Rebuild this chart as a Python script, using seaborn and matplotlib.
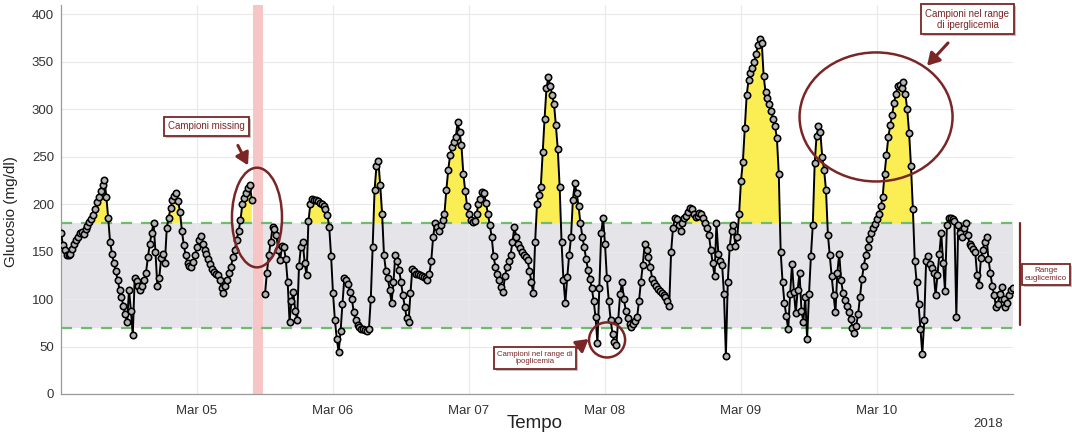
import numpy as np
import pandas as pd
import matplotlib
matplotlib.use("Agg")
import matplotlib.pyplot as plt
import matplotlib.dates as mdates
import matplotlib.patheffects as pe
from matplotlib.patches import Ellipse
import seaborn as sns

# CGM readings, one every 20 minutes, starting 2018-03-04 00:00 (mg/dl)
nan = np.nan
mar04 = [170, 157, 152, 146, 146, 148, 153, 158, 162, 166, 170, 171, 169, 174, 177, 181, 184, 189,
         195, 202, 208, 214, 220, 226, 208, 185, 160, 148, 138, 130, 120, 110, 102, 93, 84, 76,
         110, 88, 62, 122, 119, 114, 110, 114, 120, 128, 144, 158, 170, 180, 150, 114, 122, 143,
         148, 138, 175, 186, 196, 204, 209, 212, 203, 192, 172, 157, 146, 138, 135, 134, 139, 146]
mar05 = [155, 162, 167, 158, 152, 148, 142, 137, 132, 129, 127, 125, 120, 112, 106, 114, 120, 128,
         134, 144, 152, 162, 172, 183, 200, 207, 212, 217, 220, 205, nan, nan, nan, nan, nan, nan,
         105, 128, 146, 160, 176, 174, 168, 152, 141, 156, 155, 142, 118, 76, 98, 107, 88, 78,
         135, 155, 160, 138, 125, 182, 200, 206, 205, 204, 203, 201, 200, 198, 195, 189, 176, 145]
mar06 = [106, 78, 58, 44, 66, 95, 122, 120, 116, 108, 100, 86, 78, 73, 71, 69, 68, 67,
         66, 68, 100, 155, 215, 240, 246, 220, 190, 146, 130, 122, 110, 96, 118, 146, 140, 131,
         118, 104, 92, 80, 76, 106, 132, 130, 127, 126, 125, 124, 123, 122, 120, 126, 140, 165,
         180, 176, 172, 178, 183, 190, 215, 236, 252, 260, 266, 271, 287, 276, 262, 232, 214, 198]
mar07 = [190, 183, 181, 182, 190, 200, 206, 213, 212, 201, 190, 178, 166, 145, 134, 126, 120, 113,
         107, 124, 134, 140, 147, 160, 176, 166, 158, 154, 150, 146, 144, 141, 130, 118, 106, 160,
         200, 210, 218, 255, 290, 322, 334, 325, 315, 306, 283, 258, 218, 160, 120, 96, 123, 146,
         165, 205, 222, 212, 198, 180, 166, 155, 142, 131, 121, 112, 98, 81, 54, 112, 170, 185]
mar08 = [158, 122, 98, 78, 63, 55, 52, 78, 105, 118, 100, 88, 80, 74, 71, 74, 77, 81,
         98, 118, 136, 158, 152, 144, 134, 121, 117, 114, 111, 109, 106, 104, 102, 98, 93, 150,
         175, 186, 184, 178, 172, 180, 185, 188, 192, 196, 195, 190, 187, 188, 191, 190, 186, 180,
         175, 168, 152, 138, 124, 180, 148, 140, 136, 105, 40, 118, 155, 172, 178, 156, 165, 190]
mar09 = [225, 245, 280, 315, 331, 338, 344, 350, 358, 368, 374, 370, 335, 318, 312, 306, 298, 290,
         282, 270, 232, 150, 118, 96, 82, 68, 105, 137, 108, 85, 110, 128, 88, 76, 102, 58,
         105, 145, 178, 243, 272, 282, 276, 250, 236, 215, 168, 146, 124, 104, 86, 128, 148, 120,
         106, 99, 93, 86, 79, 70, 64, 72, 84, 102, 121, 135, 146, 155, 163, 170, 175, 179]
mar10 = [184, 190, 198, 208, 232, 252, 271, 283, 294, 307, 316, 325, 326, 322, 329, 316, 300, 275,
         240, 195, 140, 118, 95, 68, 42, 78, 140, 145, 137, 133, 128, 104, 125, 148, 170, 138,
         109, 178, 185, 186, 184, 182, 81, 178, 170, 166, 175, 180, 168, 158, 156, 153, 150, 125,
         115, 143, 152, 160, 165, 142, 128, 114, 104, 92, 95, 105, 113, 100, 92, 96, 104, 110,
         112]

glucose = np.array(mar04 + mar05 + mar06 + mar07 + mar08 + mar09 + mar10, dtype=float)
time = pd.date_range("2018-03-04 00:00", periods=len(glucose), freq="20min")

hypo_limit = 70
hyper_limit = 180
missing_start = pd.Timestamp("2018-03-05 09:55")
missing_end = pd.Timestamp("2018-03-05 11:35")
tick_days = pd.date_range("2018-03-05", "2018-03-10", freq="D")
x_start = pd.Timestamp("2018-03-04 00:00")
x_end = pd.Timestamp("2018-03-11 00:00")

df = pd.DataFrame({"time": time, "glucose": glucose})
df["segment"] = (df["time"] > missing_start).astype(int)
df_valid = df.dropna()

sns.set_theme(style="whitegrid")
plt.rcParams["font.family"] = ["Liberation Sans", "DejaVu Sans"]

fig = plt.figure(figsize=(10.72, 4.38), dpi=100)
ax = fig.add_axes([61 / 1072, 1 - 394 / 438, 952 / 1072, 389 / 438])
ax.set_facecolor("white")

# euglycaemic range band and its limits
ax.axhspan(hypo_limit, hyper_limit, color="#e5e5e9", zorder=0.5, lw=0)
ax.axvspan(missing_start, missing_end, color="#f6c6c6", zorder=0.8, lw=0)
for lim in (hypo_limit, hyper_limit):
    ax.axhline(lim, color="#6cbd6c", lw=1.6, ls=(0, (5, 4)), zorder=1.5)

# samples above the hyperglycaemia threshold
ax.fill_between(df["time"], hyper_limit, df["glucose"],
                where=df["glucose"] > hyper_limit, interpolate=True,
                color="#fbee55", lw=0, zorder=1.2)

sns.lineplot(data=df_valid, x="time", y="glucose", units="segment", estimator=None,
             color="black", lw=1.4, marker="o", markersize=4.6,
             markerfacecolor="#b5b5b5", markeredgecolor="black", markeredgewidth=1.15,
             ax=ax, zorder=3)

ax.set_xlim(x_start, x_end)
ax.set_ylim(0, 410)
ax.set_yticks(np.arange(0, 401, 50))
ax.set_xticks(tick_days)
ax.xaxis.set_major_formatter(mdates.DateFormatter("%b %d"))
ax.grid(True, color="#e9e9e9", lw=0.8)
ax.set_axisbelow(True)
for side in ("top", "right"):
    ax.spines[side].set_visible(False)
for side in ("left", "bottom"):
    ax.spines[side].set_color("#9a9a9a")
    ax.spines[side].set_linewidth(0.9)
ax.tick_params(axis="both", direction="in", length=6, width=0.8, color="#9a9a9a",
               labelsize=9.5, labelcolor="#333333", pad=5)
ax.tick_params(axis="x", pad=8)

ax.set_xlabel("Tempo", fontsize=13.5, color="#222222")
ax.xaxis.set_label_coords(0.498, -0.077)
ax.xaxis.label.set_va("center")
ax.set_ylabel("Glucosio (mg/dl)", fontsize=11, color="#222222")
ax.yaxis.set_label_coords(-0.045, 0.47)
ax.text(0.974, -0.077, "2018", transform=ax.transAxes, ha="center", va="center",
        fontsize=9.5, color="#333333")

# callouts
dark_red = "#7a2626"
shadow = [pe.SimplePatchShadow(offset=(1.5, -1.5), shadow_rgbFace="#888888", alpha=0.5),
          pe.Normal()]


def day(ts):
    return mdates.date2num(pd.Timestamp(ts))


def callout(ts, y, text, size, pad=0.45):
    t = ax.text(day(ts), y, text, ha="center", va="center", fontsize=size, color=dark_red,
                linespacing=1.15, zorder=6, clip_on=False,
                bbox=dict(boxstyle=f"square,pad={pad}", fc="white", ec=dark_red, lw=1.3))
    t.get_bbox_patch().set_path_effects(shadow)
    return t


def arrow(ts0, y0, ts1, y1):
    ax.annotate("", xy=(day(ts1), y1), xytext=(day(ts0), y0), zorder=6,
                annotation_clip=False,
                arrowprops=dict(arrowstyle="-|>,head_length=0.6,head_width=0.35",
                                color=dark_red, lw=2.2, shrinkA=0, shrinkB=0))


def ring(ts, y, w_days, h):
    e = Ellipse((day(ts), y), w_days, h, fill=False, ec=dark_red, lw=1.8, zorder=5,
                clip_on=False)
    ax.add_patch(e)


callout("2018-03-05 01:40", 282, "Campioni missing", 7)
arrow("2018-03-05 07:13", 262, "2018-03-05 09:00", 241)
ring("2018-03-05 10:35", 186, 0.368, 105)

callout("2018-03-07 11:38", 38, "Campioni nel range di\nipoglicemia", 5.6)
arrow("2018-03-07 19:12", 49, "2018-03-07 21:07", 58)
ring("2018-03-08 00:22", 57, 0.265, 37)

callout("2018-03-10 15:58", 395, "Campioni nel range\ndi iperglicemia", 7)
arrow("2018-03-10 12:32", 370, "2018-03-10 08:50", 346)
ring("2018-03-09 23:50", 292, 1.125, 136)

ax.plot([day("2018-03-11 01:13")] * 2, [73, 180], color=dark_red, lw=1.6,
        clip_on=False, zorder=6)
callout("2018-03-11 05:50", 126, "Range\neuglicemico", 5.8, pad=0.35)

fig.savefig("out.png", dpi=100, facecolor="white")
